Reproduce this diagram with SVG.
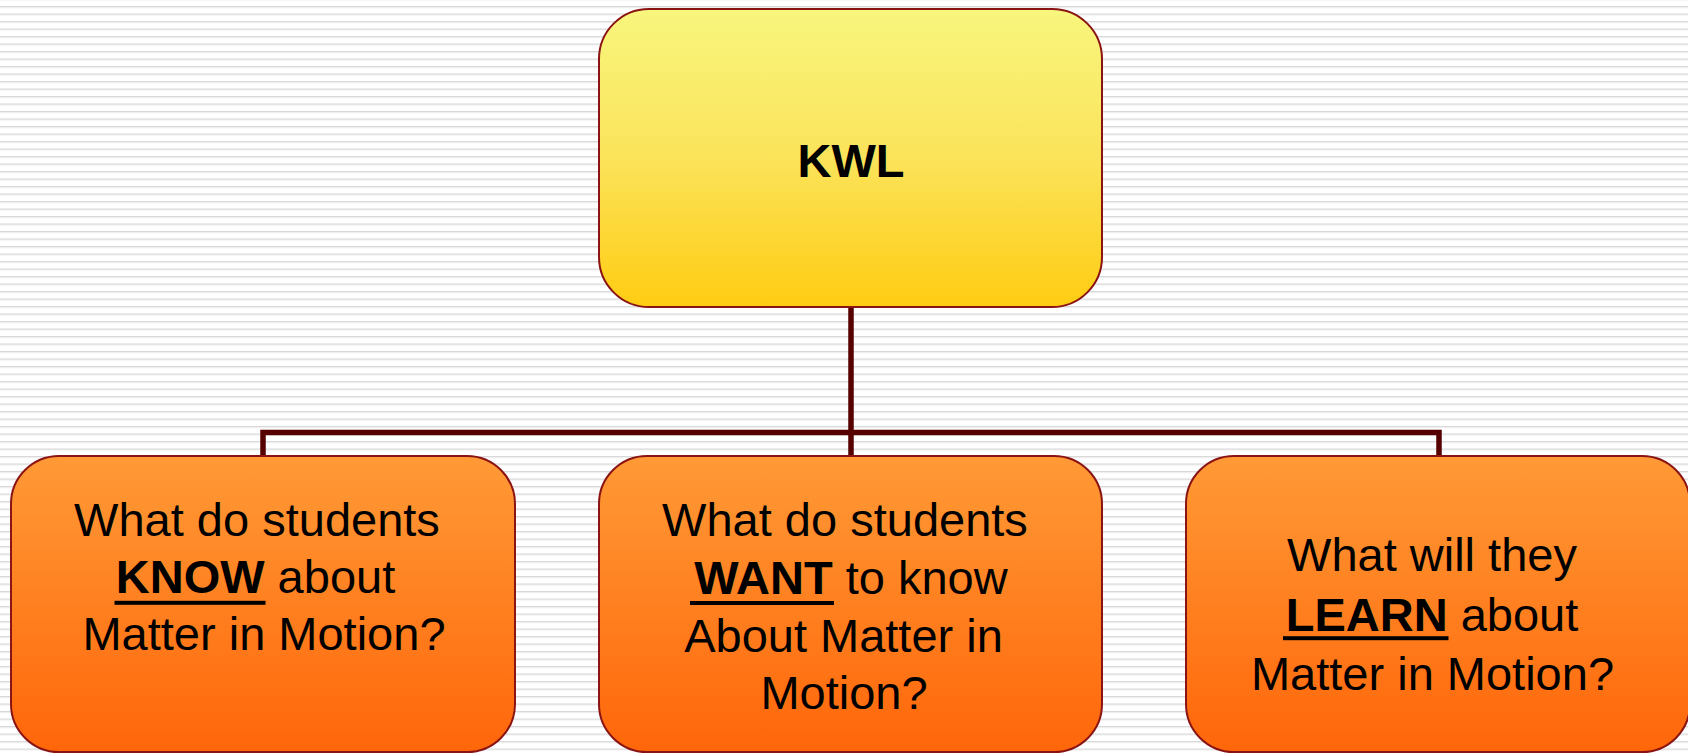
<svg xmlns="http://www.w3.org/2000/svg" width="1688" height="754" viewBox="0 0 1688 754">
<defs>
<pattern id="stripes" x="0" y="6" width="20" height="7.5" patternUnits="userSpaceOnUse">
<rect x="0" y="0" width="20" height="7.5" fill="#ffffff"/>
<rect x="0" y="0" width="20" height="1.1" fill="#d8d8d8"/>
<rect x="0" y="1.1" width="20" height="1" fill="#ececec"/>
</pattern>
<linearGradient id="gYellow" x1="0" y1="0" x2="0" y2="1">
<stop offset="0" stop-color="#f8f67e"/>
<stop offset="0.5" stop-color="#fbe35a"/>
<stop offset="1" stop-color="#ffcc12"/>
</linearGradient>
<linearGradient id="gOrange" x1="0" y1="0" x2="0" y2="1">
<stop offset="0" stop-color="#ff9a36"/>
<stop offset="1" stop-color="#ff660a"/>
</linearGradient>
<style>
.box{stroke:#8a1414;stroke-width:2}
.t{font-family:"Liberation Sans",Arial,sans-serif;font-size:47px;fill:#000;text-anchor:middle}
.b{font-weight:bold}
.ul{fill:#000}
.conn{stroke:#560000;stroke-width:5.5;fill:none}
</style>
</defs>
<rect x="0" y="0" width="1688" height="754" fill="url(#stripes)"/>
<g id="connectors">
<path class="conn" d="M851 307 V456 M263 456 V432.5 H1439 V456"/>
</g>
<g id="kwl">
<rect class="box" x="599" y="9" width="503" height="298" rx="50" fill="url(#gYellow)"/>
<text class="t" x="851" y="177" font-weight="bold">KWL</text>
</g>
<g id="know">
<rect class="box" x="11" y="456" width="504" height="296" rx="48" fill="url(#gOrange)"/>
<text class="t" x="257" y="536">What do students</text>
<text class="t" x="255.5" y="593"><tspan class="b">KNOW</tspan> about</text>
<rect class="ul" x="114.5" y="600.8" width="151" height="4"/>
<text class="t" x="264" y="650">Matter in Motion?</text>
</g>
<g id="want">
<rect class="box" x="599" y="456" width="503" height="296" rx="48" fill="url(#gOrange)"/>
<text class="t" x="845" y="536">What do students</text>
<text class="t" x="851" y="594"><tspan class="b">WANT</tspan> to know</text>
<rect class="ul" x="690" y="601" width="144" height="4"/>
<text class="t" x="843.5" y="651.5">About Matter in</text>
<text class="t" x="844" y="709">Motion?</text>
</g>
<g id="learn">
<rect class="box" x="1186" y="456" width="504" height="296" rx="48" fill="url(#gOrange)"/>
<text class="t" x="1432" y="570.5">What will they</text>
<text class="t" x="1432" y="630.5"><tspan class="b">LEARN</tspan> about</text>
<rect class="ul" x="1283" y="636.2" width="165.5" height="4"/>
<text class="t" x="1432.5" y="690">Matter in Motion?</text>
</g>
</svg>
